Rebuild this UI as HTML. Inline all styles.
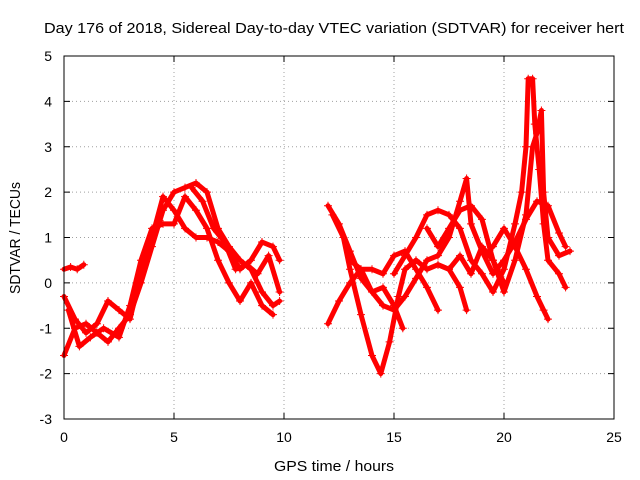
<!DOCTYPE html>
<html><head><meta charset="utf-8"><style>
body{margin:0;background:#fff}
svg{display:block;font-family:"Liberation Sans",sans-serif}
</style></head><body>
<svg id="chart" width="640" height="480" viewBox="0 0 640 480">
<text x="334" y="33" font-size="15" text-anchor="middle" textLength="580" lengthAdjust="spacingAndGlyphs">Day 176 of 2018, Sidereal Day-to-day VTEC variation (SDTVAR) for receiver hert</text>
<g id="grid"></g>
<g id="ticks"></g>
<g id="series"></g>
<rect x="64" y="56" width="550" height="363" fill="none" stroke="#000" stroke-width="1"/>
<text x="334" y="471" font-size="15" text-anchor="middle" textLength="120" lengthAdjust="spacingAndGlyphs">GPS time / hours</text>
<text transform="translate(20,238) rotate(-90)" font-size="15" text-anchor="middle" textLength="112" lengthAdjust="spacingAndGlyphs">SDTVAR / TECUs</text>
</svg>
<script>
const xTicks=[0,5,10,15,20,25];
const yTicks=[-3,-2,-1,0,1,2,3,4,5];
const track1=[[0,0.3],[0.3,0.35],[0.6,0.3],[0.9,0.4]];
const track2=[[0,-1.6],[0.5,-1.0],[1,-0.9],[1.5,-1.1],[2,-1.3],[2.5,-1.0],[3,-0.7],[3.5,0],[4,0.8],[4.5,1.6],[5,2.0],[5.5,2.1],[6,2.2],[6.5,2.0],[7,1.2],[7.5,0.8],[8,0.5],[8.5,0.3],[9,-0.2],[9.5,-0.5],[9.8,-0.4]];
const track3=[[0,-0.3],[0.5,-0.8],[1,-1.1],[1.5,-0.9],[2,-0.4],[2.5,-0.6],[3,-0.8],[3.5,0.2],[4,1.0],[4.5,1.9],[5,1.6],[5.5,1.2],[6,1.0],[6.5,1.0],[7,0.9],[7.5,0.7],[8,0.3],[8.5,0.5],[9,0.9],[9.5,0.8],[9.8,0.5]];
const track4=[[0.2,-0.6],[0.7,-1.4],[1.2,-1.2],[1.8,-1.0],[2.5,-1.2],[3,-0.5],[3.5,0.5],[4,1.2],[4.5,1.3],[5,1.3],[5.5,1.9],[6,1.6],[6.5,1.2],[7,0.5],[7.5,0],[8,-0.4],[8.5,0],[9,-0.5],[9.5,-0.7]];
const track5=[[5.8,2.1],[6.3,1.8],[6.8,1.2],[7.3,0.9],[7.8,0.3],[8.3,0.4],[8.8,0.2],[9.3,0.6],[9.8,-0.2]];
const trackA=[[12,1.7],[12.5,1.3],[13,0.7],[13.5,0.1],[14,-0.2],[14.5,-0.5],[15,-0.6],[15.5,-0.3],[16,0.1],[16.5,0.5],[17,0.6],[17.5,1.0],[18,1.8],[18.3,2.3],[18.5,1.3],[19,0.7],[19.5,0.2],[20,0.5],[20.5,0.9],[21,1.4],[21.5,1.8],[22,1.7],[22.5,1.1],[22.8,0.8]];
const trackB=[[12,-0.9],[12.5,-0.4],[13,0.0],[13.5,0.3],[14,0.3],[14.5,0.2],[15,0.6],[15.5,0.7],[16,0.3],[16.5,-0.1],[17,-0.6]];
const trackC=[[12.2,1.5],[12.7,1.0],[13,0.3],[13.5,-0.7],[14,-1.6],[14.4,-2.0],[14.8,-1.3],[15.2,-0.3],[15.5,0.3],[16,0.5],[16.5,0.3],[17,0.4],[17.5,0.3],[18,-0.1],[18.3,-0.6]];
const trackD=[[13,0.5],[13.5,0.3],[14,-0.2],[14.5,-0.1],[15,-0.5],[15.4,-1.0]];
const trackE=[[15,0.2],[15.5,0.6],[16,1.0],[16.5,1.5],[17,1.6],[17.5,1.5],[18,1.2],[18.5,0.5],[19,0.2],[19.5,-0.2],[20,0.3],[20.5,1.3],[20.8,2.0],[21,3.0],[21.1,4.5],[21.3,4.5],[21.4,3.5],[21.6,2.5],[21.8,1.3],[22,0.5],[22.5,0.2],[22.8,-0.1]];
const trackF=[[16.5,1.2],[17,0.8],[17.5,1.2],[18,1.6],[18.5,1.7],[19,1.4],[19.5,0.5],[20,-0.2],[20.5,0.5],[21,1.5],[21.3,3.0],[21.5,3.3],[21.7,3.8],[21.8,2.0],[22,1.0],[22.5,0.6],[23,0.7]];
const trackG=[[19.5,0.8],[20,1.2],[20.5,0.8],[21,0.3],[21.5,-0.3],[21.8,-0.6],[22,-0.8]];
const trackH=[[17,0.4],[17.5,0.3],[18,0.6],[18.5,0.2],[19,0.8],[19.5,0.5],[20,0.0]];
const tracks=[track1,track2,track3,track4,track5,trackA,trackB,trackC,trackD,trackE,trackF,trackG,trackH];

const X0=64,X1=614,Y0=419,Y1=56;
const xs=v=>X0+(v-0)/(25-0)*(X1-X0);
const ys=v=>Y0-(v+3)/(5+3)*(Y0-Y1);
const NS="http://www.w3.org/2000/svg";
function mk(tag,attrs,parent){const e=document.createElementNS(NS,tag);for(const k in attrs)e.setAttribute(k,attrs[k]);parent.appendChild(e);return e;}
const grid=document.getElementById('grid'),ticks=document.getElementById('ticks'),ser=document.getElementById('series');
xTicks.forEach(t=>{
  const x=xs(t);
  if(t>0&&t<25){const g=mk('line',{x1:x,x2:x,y1:Y1,y2:Y0,stroke:'#a0a0a0','stroke-dasharray':'1,3'},grid);
  
  }
  mk('line',{x1:x,x2:x,y1:Y0,y2:Y0-6,stroke:'#000'},ticks);
  mk('line',{x1:x,x2:x,y1:Y1,y2:Y1+6,stroke:'#000'},ticks);
  const l=mk('text',{x:x,y:442,'font-size':'14','text-anchor':'middle'},ticks);l.textContent=t;
  
  
});
yTicks.forEach(t=>{
  const y=ys(t);
  if(t>-3&&t<5){const g=mk('line',{x1:X0,x2:X1,y1:y,y2:y,stroke:'#a0a0a0','stroke-dasharray':'1,3'},grid);
  
  }
  mk('line',{x1:X0,x2:X0+6,y1:y,y2:y,stroke:'#000'},ticks);
  mk('line',{x1:X1,x2:X1-6,y1:y,y2:y,stroke:'#000'},ticks);
  const l=mk('text',{x:52,y:y+5,'font-size':'14','text-anchor':'end'},ticks);l.textContent=t;
  
  
});
tracks.forEach((tr,i)=>{
  const p=mk('polyline',{points:tr.map(d=>xs(d[0])+','+ys(d[1])).join(' '),fill:'none',stroke:'#ff0000','stroke-width':'5','stroke-linejoin':'round','stroke-linecap':'round'},ser);
  
  
  tr.forEach(d=>{
    const x=xs(d[0]),y=ys(d[1]);
    const m=mk('path',{d:`M${x-4},${y}H${x+4}M${x},${y-4}V${y+4}`,stroke:'#ff0000','stroke-width':'1'},ser);
    
    
  });
});
</script>
</body></html>
